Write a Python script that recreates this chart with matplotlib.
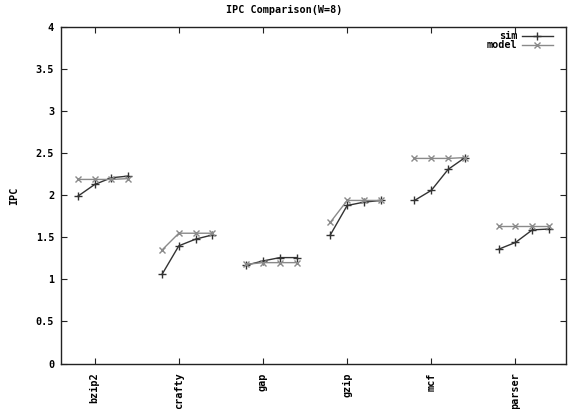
import matplotlib
matplotlib.use("Agg")
import matplotlib.pyplot as plt

benchmarks = ["bzip2", "crafty", "gap", "gzip", "mcf", "parser"]
offsets = [-0.2, 0.0, 0.2, 0.4]

sim = {
    "bzip2":  [1.99, 2.13, 2.21, 2.23],
    "crafty": [1.06, 1.40, 1.48, 1.53],
    "gap":    [1.17, 1.22, 1.26, 1.26],
    "gzip":   [1.53, 1.88, 1.92, 1.94],
    "mcf":    [1.94, 2.06, 2.31, 2.45],
    "parser": [1.36, 1.44, 1.59, 1.60],
}
model = {
    "bzip2":  [2.19, 2.19, 2.19, 2.20],
    "crafty": [1.35, 1.55, 1.55, 1.55],
    "gap":    [1.18, 1.20, 1.20, 1.20],
    "gzip":   [1.68, 1.94, 1.94, 1.94],
    "mcf":    [2.44, 2.44, 2.44, 2.45],
    "parser": [1.63, 1.63, 1.63, 1.63],
}
yticks = [0, 0.5, 1, 1.5, 2, 2.5, 3, 3.5, 4]
ytick_labels = ["0", "0.5", "1", "1.5", "2", "2.5", "3", "3.5", "4"]

FS = 7.3
font = {"family": "DejaVu Sans Mono", "weight": "bold", "size": FS}
plt.rcParams["font.family"] = "DejaVu Sans Mono"
plt.rcParams["font.weight"] = "bold"

W, H = 568, 409
fig = plt.figure(figsize=(W / 100, H / 100), dpi=100)
ax_l, ax_r, ax_t, ax_b = 61, 566, 27.3, 363.5
ax = fig.add_axes([ax_l / W, 1 - ax_b / H, (ax_r - ax_l) / W, (ax_b - ax_t) / H])

sim_color = "#333333"
model_color = "#8a8a8a"
sim_style = dict(color=sim_color, lw=1.0, marker="+", ms=6, mew=1.0)
model_style = dict(color=model_color, lw=1.0, marker="x", ms=4.8, mew=1.0)

for i, b in enumerate(benchmarks):
    xs = [i + o for o in offsets]
    ax.plot(xs, sim[b], **sim_style)
    ax.plot(xs, model[b], **model_style)

ax.set_xlim(-0.4, 5.6)
ax.set_ylim(0, 4)
ax.set_xticks(range(len(benchmarks)))
ax.set_xticklabels(benchmarks, rotation=90, **font)
ax.set_yticks(yticks)
ax.set_yticklabels(ytick_labels, **font)
ax.tick_params(direction="in", length=4, width=0.8, top=True, right=True,
               color="#222222", labelcolor="black")
ax.tick_params(axis="x", pad=6.5)
ax.tick_params(axis="y", pad=5)
for sp in ax.spines.values():
    sp.set_linewidth(1.0)
    sp.set_color("#222222")

ax.set_ylabel("IPC", **font)
ax.yaxis.set_label_coords((19 - ax_l) / (ax_r - ax_l), 0.5)
fig.text(0.5, 1 - 10 / H, "IPC Comparison(W=8)", ha="center", va="center", **font)

# key in the upper right: label text, then a sample line with its marker
def px_to_axes(x, y):
    return (x - ax_l) / (ax_r - ax_l), (ax_b - y) / (ax_b - ax_t)

for label, style, ypix in [("sim", sim_style, 35.7), ("model", model_style, 45.0)]:
    tx, ty = px_to_axes(517.5, ypix)
    ax.text(tx, ty, label, transform=ax.transAxes, ha="right", va="center", **font)
    x0, y0 = px_to_axes(521.5, ypix)
    x1, _ = px_to_axes(553, ypix)
    ax.plot([x0, x1], [y0, y0], transform=ax.transAxes, color=style["color"],
            lw=1.0, clip_on=False)
    ax.plot([(x0 + x1) / 2], [y0], transform=ax.transAxes, color=style["color"],
            marker=style["marker"], ms=style["ms"], mew=1.0, clip_on=False)

fig.savefig("out.png", dpi=100, facecolor="white")
